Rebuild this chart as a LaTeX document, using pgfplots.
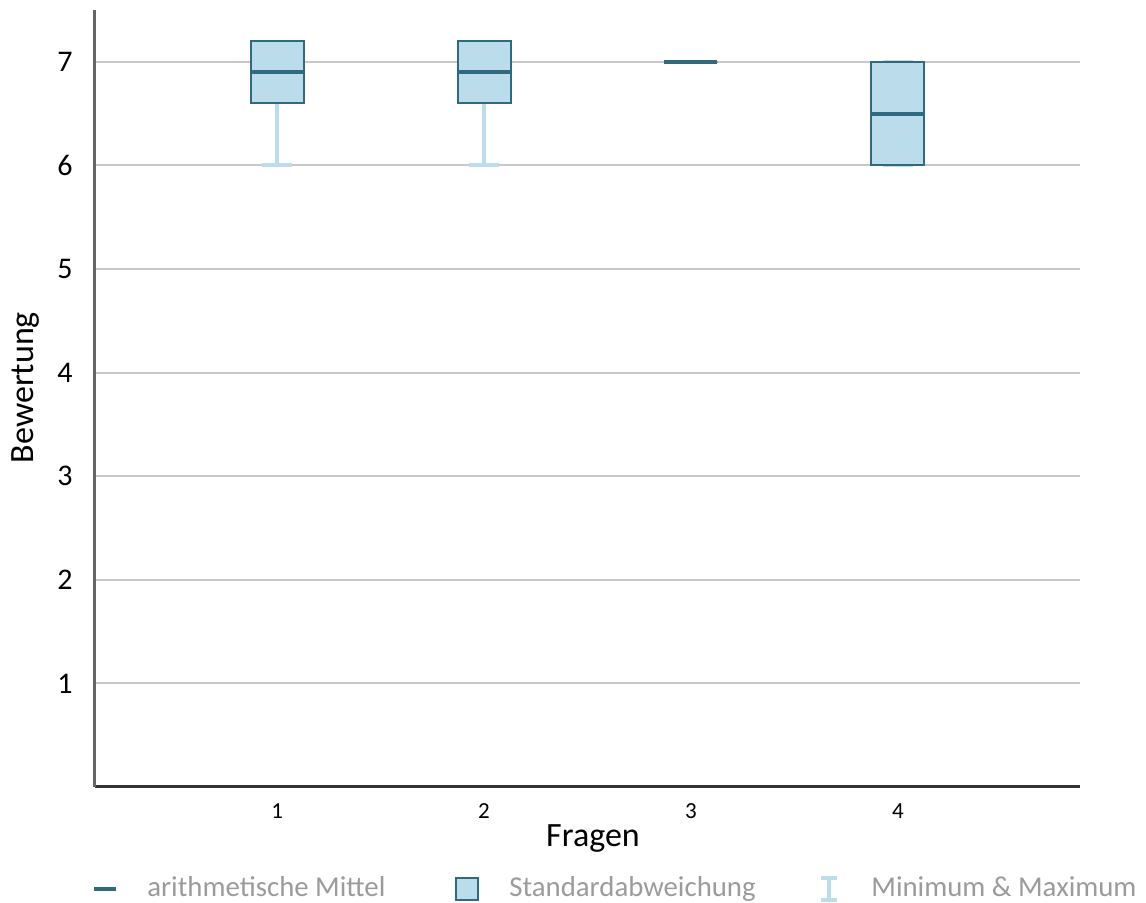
\documentclass[border=0pt]{standalone}
\usepackage{fontspec}
\setmainfont{Carlito}
\usepackage{pgfplots}
\pgfplotsset{compat=1.18}
\usepgfplotslibrary{statistics}
\definecolor{darkteal}{HTML}{2F6A7E}
\definecolor{boxfill}{HTML}{BBDCEB}
\definecolor{whisk}{HTML}{BCDEEC}
\definecolor{gridgray}{HTML}{C8C8C8}
\definecolor{legtext}{HTML}{9B9B9B}
\pgfplotsset{
  whiskeronly/.style={forget plot, draw=whisk,
    boxplot/every box/.style={draw=none, fill=none},
    boxplot/every median/.style={draw=none},
    boxplot/every whisker/.style={draw=whisk, line width=2pt}},
  boxonly/.style={forget plot, draw=darkteal,
    boxplot/every box/.style={draw=darkteal, fill=boxfill, line width=1pt},
    boxplot/every median/.style={draw=darkteal, line width=2pt},
    boxplot/every whisker/.style={draw=none}},
}
\begin{document}
\begin{tikzpicture}
\begin{axis}[
  at={(0,0)}, anchor=south west,
  scale only axis, width=492.5pt, height=388.5pt,
  xmin=0.12, xmax=4.88, ymin=0, ymax=7.5,
  xtick={1,2,3,4}, ytick={1,2,3,4,5,6,7},
  major tick length=0pt,
  axis x line*=bottom, axis y line*=left,
  x axis line style={draw=black!80, line width=1.5pt},
  y axis line style={draw=black!60, line width=1.5pt},
  ymajorgrids, grid style={draw=gridgray, line width=1pt},
  /pgf/number format/assume math mode=true,
  yticklabel style={font=\fontsize{15}{18}\selectfont, inner sep=0pt, xshift=-11pt},
  xticklabel style={font=\fontsize{11.5}{14}\selectfont, inner sep=0pt, yshift=-8pt},
  xlabel={Fragen}, ylabel={Bewertung},
  xlabel style={font=\fontsize{17}{20}\selectfont, at={(axis description cs:0.5056,-0.0657)}, anchor=center},
  ylabel style={font=\fontsize{17}{20}\selectfont, at={(axis description cs:-0.071,0.514)}, anchor=center},
  boxplot/draw direction=y,
  boxplot/box extend=0.256,
  boxplot/whisker extend=0.145,
  legend columns=3,
  legend style={at={(axis description cs:-0.0061,-0.1299)}, anchor=west, draw=none, fill=none,
    inner sep=0pt, font=\fontsize{14.4}{17}\selectfont, text=legtext,
    /tikz/every odd column/.append style={column sep=11pt}},
  legend cell align=left,
]
% whiskers (min & max)
\addplot[whiskeronly, boxplot prepared={draw position=1, lower whisker=6, lower quartile=6.6, median=6.9, upper quartile=7.2, upper whisker=7}] coordinates {};
\addplot[whiskeronly, boxplot prepared={draw position=2, lower whisker=6, lower quartile=6.6, median=6.9, upper quartile=7.2, upper whisker=7}] coordinates {};
\addplot[whiskeronly, boxplot prepared={draw position=3, lower whisker=7, lower quartile=7, median=7, upper quartile=7, upper whisker=7}] coordinates {};
\addplot[whiskeronly, boxplot prepared={draw position=4, lower whisker=6, lower quartile=6, median=6.5, upper quartile=7, upper whisker=7}] coordinates {};
% boxes (mean +- sd) and means
\addplot[boxonly, boxplot prepared={draw position=1, lower whisker=6, lower quartile=6.6, median=6.9, upper quartile=7.2, upper whisker=7}] coordinates {};
\addplot[boxonly, boxplot prepared={draw position=2, lower whisker=6, lower quartile=6.6, median=6.9, upper quartile=7.2, upper whisker=7}] coordinates {};
\addplot[boxonly, boxplot prepared={draw position=3, lower whisker=7, lower quartile=7, median=7, upper quartile=7, upper whisker=7}] coordinates {};
\addplot[boxonly, boxplot prepared={draw position=4, lower whisker=6, lower quartile=6, median=6.5, upper quartile=7, upper whisker=7}] coordinates {};

\addlegendimage{legend image code/.code={
  \path[draw=none, fill=none] (0pt,-6pt) rectangle (16pt,5pt);
  \draw[darkteal, line width=2pt] (2.5pt,-0.5pt) -- (13.5pt,-0.5pt);}}
\addlegendentry{\makebox[150pt][l]{arithmetische Mittel}}
\addlegendimage{legend image code/.code={
  \path[draw=none, fill=none] (0pt,-6pt) rectangle (16pt,5pt);
  \draw[draw=darkteal, fill=boxfill, line width=1pt] (2.5pt,-6pt) rectangle (13.5pt,5pt);}}
\addlegendentry{\makebox[150pt][l]{Standardabweichung}}
\addlegendimage{legend image code/.code={
  \path[draw=none, fill=none] (0pt,-6pt) rectangle (16pt,5pt);
  \draw[whisk, line width=2pt] (8pt,-6pt) -- (8pt,5pt) (4pt,-6pt) -- (12pt,-6pt) (4pt,5pt) -- (12pt,5pt);}}
\addlegendentry{Minimum \& Maximum}
\end{axis}
\pgfresetboundingbox
\path[use as bounding box] (-47.5pt,-58pt) rectangle (525.5pt,393.5pt);
\end{tikzpicture}
\end{document}
